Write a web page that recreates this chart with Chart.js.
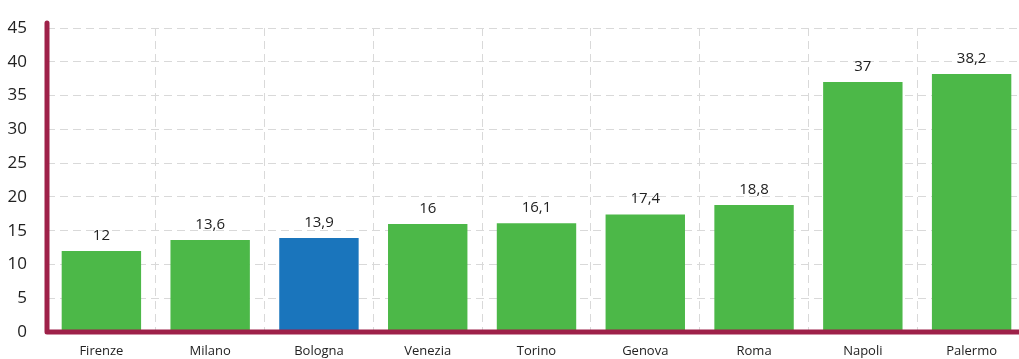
<!DOCTYPE html>
<html lang="it">
<head>
    <meta charset="UTF-8">
    <title>Confronto città</title>
    <script src="https://cdn.jsdelivr.net/npm/chart.js"></script>
    <style>
        html, body { margin: 0; padding: 0; background: #fff; overflow: hidden; }
        #wrap { width: 1019px; height: 359px; overflow: hidden; position: relative; }
        canvas { display: block; position: absolute; left: 0; top: 0; }
    </style>
</head>
<body>
    <div id="wrap"><canvas id="cityChart" width="1026" height="359"></canvas></div>

    <script>
        const cities = ['Firenze', 'Milano', 'Bologna', 'Venezia', 'Torino', 'Genova', 'Roma', 'Napoli', 'Palermo'];
        const values = [12, 13.6, 13.9, 16, 16.1, 17.4, 18.8, 37, 38.2];
        const highlight = 'Bologna';
        const yTicks = [0, 5, 10, 15, 20, 25, 30, 35, 40, 45];

        const green = '#4cb848';
        const blue = '#1a75bc';
        const maroon = '#9e2149';

        // value labels above each bar, italian decimal comma
        const valueLabels = {
            id: 'valueLabels',
            afterDatasetsDraw(chart) {
                const ctx = chart.ctx;
                const meta = chart.getDatasetMeta(0);
                ctx.save();
                ctx.font = '15px "Open Sans", sans-serif';
                ctx.fillStyle = '#222';
                ctx.textAlign = 'center';
                ctx.textBaseline = 'bottom';
                meta.data.forEach((bar, i) => {
                    ctx.fillText(String(values[i]).replace('.', ','), bar.x, bar.y - 8);
                });
                ctx.restore();
            }
        };

        // thick rounded axis lines
        const axisLines = {
            id: 'axisLines',
            afterDatasetsDraw(chart) {
                const { ctx, chartArea } = chart;
                ctx.save();
                ctx.strokeStyle = maroon;
                ctx.lineWidth = 5;
                ctx.lineCap = 'round';
                ctx.lineJoin = 'round';
                ctx.beginPath();
                ctx.moveTo(chartArea.left, chartArea.top - 5);
                ctx.lineTo(chartArea.left, chartArea.bottom);
                ctx.lineTo(chartArea.right + 10, chartArea.bottom);
                ctx.stroke();
                ctx.restore();
            }
        };

        new Chart(document.getElementById('cityChart'), {
            type: 'bar',
            data: {
                labels: cities,
                datasets: [{
                    data: values,
                    backgroundColor: cities.map(c => c === highlight ? blue : green),
                    barPercentage: 0.73,
                    categoryPercentage: 1
                }]
            },
            options: {
                responsive: false,
                animation: false,
                layout: { padding: { top: 28, right: 0, left: 0, bottom: 0 } },
                plugins: {
                    legend: { display: false },
                    tooltip: { enabled: false }
                },
                scales: {
                    x: {
                        offset: true,
                        grid: { offset: true, color: '#d9d9d9', drawTicks: false },
                        border: { display: false, dash: [8, 5] },
                        ticks: {
                            color: '#222',
                            font: { family: '"Open Sans", sans-serif', size: 13 },
                            padding: 11,
                            maxRotation: 0
                        },
                        afterFit(scale) {
                            scale.height = 27;
                            scale.paddingLeft = 0;
                            scale.paddingRight = 0;
                        }
                    },
                    y: {
                        min: 0,
                        max: 45,
                        afterBuildTicks(scale) { scale.ticks = yTicks.map(v => ({ value: v })); },
                        grid: { color: '#d9d9d9', drawTicks: false },
                        border: { display: false, dash: [8, 5] },
                        ticks: {
                            color: '#222',
                            font: { family: '"Open Sans", sans-serif', size: 17 },
                            padding: 20
                        },
                        afterFit(scale) {
                            scale.width = 47;
                            scale.paddingTop = 0;
                            scale.paddingBottom = 0;
                        }
                    }
                }
            },
            plugins: [valueLabels, axisLines]
        });
    </script>
</body>
</html>
